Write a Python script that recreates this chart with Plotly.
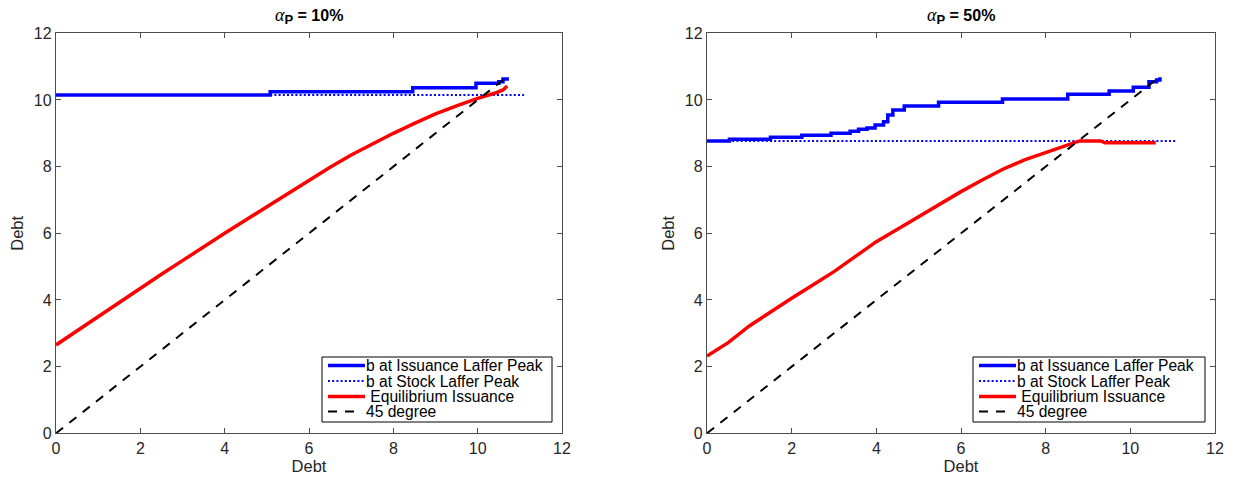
import plotly.graph_objects as go

# ---------------- data ----------------
# Left panel: alpha_P = 10%
l_issue_peak_x = [0, 5.08, 8.46, 9.96, 10.5, 10.6, 10.7]
l_issue_peak_y = [10.15, 10.25, 10.37, 10.5, 10.55, 10.63, 10.68]
l_stock_peak_x = [0, 11.1]
l_stock_peak_y = [10.15, 10.15]
l_equil_x = [0, 0.5, 1, 1.5, 2, 2.5, 3, 3.5, 4, 4.5, 5, 5.5, 6, 6.5, 7, 7.5, 8, 8.5, 9, 9.5, 10, 10.4, 10.6, 10.7]
l_equil_y = [2.65, 3.08, 3.5, 3.93, 4.35, 4.77, 5.18, 5.6, 6.0, 6.4, 6.8, 7.2, 7.6, 7.98, 8.35, 8.68, 9.0, 9.3, 9.58, 9.82, 10.05, 10.2, 10.3, 10.42]

# Right panel: alpha_P = 50%
r_issue_peak_x = [0, 0.53, 1.5, 2.24, 2.93, 3.38, 3.58, 3.78, 3.97, 4.17, 4.27, 4.39, 4.66, 5.47, 6.98, 8.52, 9.5, 10.07, 10.44, 10.62, 10.7]
r_issue_peak_y = [8.77, 8.82, 8.88, 8.94, 9.0, 9.06, 9.12, 9.16, 9.25, 9.35, 9.55, 9.7, 9.82, 9.93, 10.03, 10.17, 10.27, 10.38, 10.55, 10.6, 10.68]
r_stock_peak_x = [0, 11.07]
r_stock_peak_y = [8.77, 8.77]
r_equil_x = [0, 0.5, 1, 1.5, 2, 2.5, 3, 3.5, 4, 4.5, 5, 5.5, 6, 6.5, 7, 7.5, 8, 8.5, 8.8, 9.3, 9.4, 10.6]
r_equil_y = [2.32, 2.72, 3.22, 3.65, 4.05, 4.45, 4.85, 5.3, 5.75, 6.12, 6.5, 6.88, 7.25, 7.6, 7.93, 8.2, 8.42, 8.63, 8.77, 8.77, 8.72, 8.72]

deg45_x = [0, 10.7]
deg45_y = [0, 10.7]

ALPHA = "<span style='font-family:Liberation Serif;font-size:18px;font-weight:normal'><i>α</i></span>"
titles = ["<b>" + ALPHA + "<sub><span style='font-size:13px'>P</span></sub> = 10%</b>",
          "<b>" + ALPHA + "<sub><span style='font-size:13px'>P</span></sub> = 50%</b>"]
names = ["b at Issuance Laffer Peak", "b at Stock Laffer Peak", "\u00a0Equilibrium Issuance", "45 degree"]
tickvals = [0, 2, 4, 6, 8, 10, 12]

FONT = "Liberation Sans, Arial, Helvetica, sans-serif"
AX_COL = "#4d4d4d"
TXT_COL = "#262626"
BLUE, RED, BLACK = "#0000ff", "#ff0000", "#000000"
styles = [
    dict(color=BLUE, width=3.5),
    dict(color=BLUE, width=2, dash="2px,2.2px"),
    dict(color=RED, width=3.5),
    dict(color=BLACK, width=2, dash="9px,8px"),
]

fig = go.Figure()

panels = [
    ("x", "y", l_issue_peak_x, l_issue_peak_y, l_stock_peak_x, l_stock_peak_y, l_equil_x, l_equil_y),
    ("x2", "y2", r_issue_peak_x, r_issue_peak_y, r_stock_peak_x, r_stock_peak_y, r_equil_x, r_equil_y),
]

for xa, ya, ipx, ipy, spx, spy, ex, ey in panels:
    fig.add_trace(go.Scatter(x=ipx, y=ipy, mode="lines", name=names[0], xaxis=xa, yaxis=ya,
                             line=dict(shape="hv", **styles[0])))
    fig.add_trace(go.Scatter(x=spx, y=spy, mode="lines", name=names[1], xaxis=xa, yaxis=ya,
                             line=styles[1]))
    fig.add_trace(go.Scatter(x=ex, y=ey, mode="lines", name=names[2], xaxis=xa, yaxis=ya,
                             line=styles[2]))
    fig.add_trace(go.Scatter(x=deg45_x, y=deg45_y, mode="lines", name=names[3], xaxis=xa, yaxis=ya,
                             line=styles[3]))

# page has an 8px body margin; figure is laid out in figure pixels
W, H = 1222, 467
def px(x):
    return x / W
def py(y):
    return (H - y) / H

y_dom = [py(425.3), py(25.3)]
x_dom_l = [px(48), px(554)]
x_dom_r = [px(699), px(1207)]

def axis(standoff):
    return dict(
        range=[0, 12], tickvals=tickvals, ticks="inside", ticklen=5, tickwidth=1,
        tickcolor=AX_COL, showline=True, linecolor=AX_COL, linewidth=1.3, mirror="ticks",
        showgrid=False, zeroline=False, automargin=False,
        tickfont=dict(family=FONT, size=16, color=TXT_COL),
        title=dict(text="Debt", font=dict(family=FONT, size=16.5, color=TXT_COL), standoff=standoff),
    )

annotations = []
shapes = []
for i, dom in enumerate([x_dom_l, x_dom_r]):
    annotations.append(dict(text=titles[i], x=(dom[0] + dom[1]) / 2, y=py(8), xref="paper", yref="paper",
                            showarrow=False, xanchor="center", yanchor="middle",
                            font=dict(family=FONT, size=16, color=BLACK)))
    # legend box (drawn by hand to match the compact legend of the original)
    ax_left = dom[0] * W
    ax_right = dom[1] * W
    box_l = ax_left + 266
    box_r = ax_right - 10
    box_t, box_b = 349, 414
    shapes.append(dict(type="rect", xref="paper", yref="paper", x0=px(box_l), x1=px(box_r),
                       y0=py(box_b), y1=py(box_t), line=dict(color=BLACK, width=1), fillcolor="white",
                       layer="above"))
    rows = [357.5, 373, 388.5, 403.5]
    for k, (nm, st) in enumerate(zip(names, styles)):
        x0 = box_l + 6
        x1 = box_l + (33 if k == 3 else 43)
        shapes.append(dict(type="line", xref="paper", yref="paper", x0=px(x0), x1=px(x1),
                           y0=py(rows[k]), y1=py(rows[k]), line=st, layer="above"))
        annotations.append(dict(text=nm, x=px(box_l + 42), y=py(rows[k]), xref="paper", yref="paper",
                                showarrow=False, xanchor="left", yanchor="middle",
                                font=dict(family=FONT, size=15.6, color=BLACK)))

fig.update_layout(
    width=W, height=H,
    margin=dict(l=0, r=0, t=0, b=0),
    paper_bgcolor="white", plot_bgcolor="white",
    showlegend=False,
    xaxis=dict(domain=x_dom_l, anchor="y", **axis(2)),
    yaxis=dict(domain=y_dom, anchor="x", **axis(6)),
    xaxis2=dict(domain=x_dom_r, anchor="y2", **axis(2)),
    yaxis2=dict(domain=y_dom, anchor="x2", **axis(6)),
    shapes=shapes,
    annotations=annotations,
)

fig.write_html("out.html")
